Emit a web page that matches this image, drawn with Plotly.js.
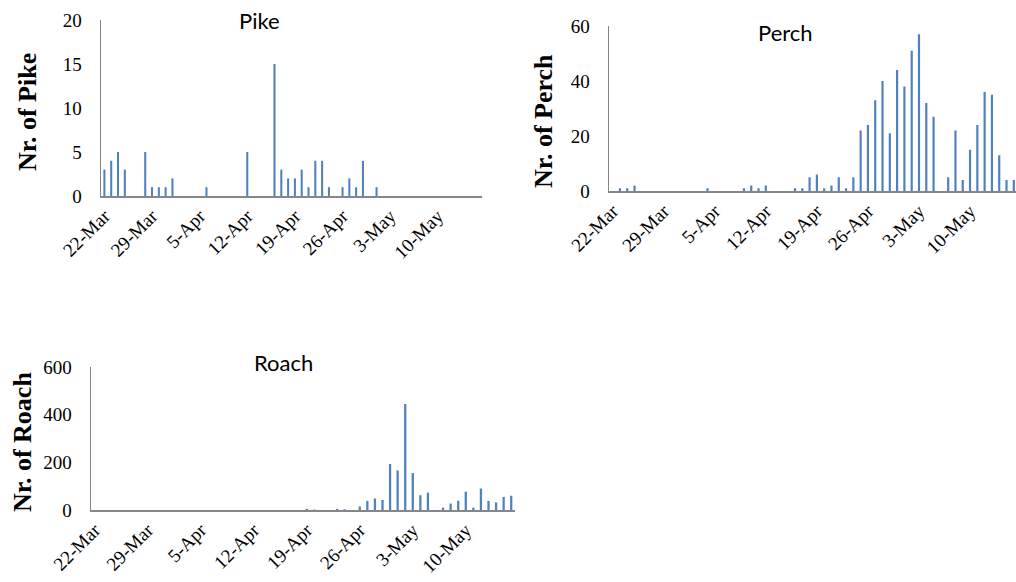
<!DOCTYPE html>
<html>
<head>
<meta charset="utf-8">
<script src="https://cdn.plot.ly/plotly-3.0.1.min.js"></script>
<style>html,body{margin:0;padding:0;background:#fff;}#chart{width:1016px;height:582px;}#pad{position:absolute;left:560px;top:280px;width:450px;height:20px;}</style>
</head>
<body>
<div id="chart"></div>
<div id="pad"></div>
<script>
// Daily dates (22-Mar to 16-May)
const dates = [
  "22-Mar","23-Mar","24-Mar","25-Mar","26-Mar","27-Mar","28-Mar",
  "29-Mar","30-Mar","31-Mar","1-Apr","2-Apr","3-Apr","4-Apr",
  "5-Apr","6-Apr","7-Apr","8-Apr","9-Apr","10-Apr","11-Apr",
  "12-Apr","13-Apr","14-Apr","15-Apr","16-Apr","17-Apr","18-Apr",
  "19-Apr","20-Apr","21-Apr","22-Apr","23-Apr","24-Apr","25-Apr",
  "26-Apr","27-Apr","28-Apr","29-Apr","30-Apr","1-May","2-May",
  "3-May","4-May","5-May","6-May","7-May","8-May","9-May",
  "10-May","11-May","12-May","13-May","14-May","15-May","16-May"
];
const tickLabels = ["22-Mar","29-Mar","5-Apr","12-Apr","19-Apr","26-Apr","3-May","10-May"];

const pike = [
  3,4,5,3,0,0,5,
  1,1,1,2,0,0,0,
  0,1,0,0,0,0,0,
  5,0,0,0,15,3,2,
  2,3,1,4,4,1,0,
  1,2,1,4,0,1,0,
  0,0,0,0,0,0,0,
  0,0,0,0,0,0,0
];
const perch = [
  0,1,1,2,0,0,0,
  0,0,0,0,0,0,1,
  0,0,0,0,1,2,1,
  2,0,0,0,1,1,5,
  6,1,2,5,1,5,22,
  24,33,40,21,44,38,51,
  57,32,27,0,5,22,4,
  15,24,36,35,13,4,4
];
const roach = [
  0,0,0,0,0,0,0,
  0,0,0,0,0,0,0,
  0,0,0,0,0,0,0,
  0,0,0,0,0,0,0,
  5,2,0,0,5,3,0,
  15,38,48,42,193,166,445,
  155,62,73,0,10,27,39,
  77,10,90,38,32,55,60
];

const barColor = "#4F81BD";
const axisColor = "#868686";
const SERIF = "'Liberation Serif', 'Times New Roman', serif";
function tickFont() { return {family: SERIF, size: 19, color: "#000"}; }

function xAxis(domain, anchor, range) {
  return {
    domain: domain, anchor: anchor, type: "category", range: range,
    tickmode: "array", tickvals: tickLabels.slice(), ticktext: tickLabels.slice(),
    tickangle: -45, tickfont: tickFont(), showgrid: false, zeroline: false,
    showline: true, linecolor: axisColor, linewidth: 1.5, ticks: "", fixedrange: true
  };
}
function yAxis(domain, anchor, range, dtick) {
  return {
    domain: domain, anchor: anchor, range: range, dtick: dtick, tick0: 0,
    tickfont: tickFont(), showgrid: false, zeroline: false,
    showline: true, linecolor: axisColor, linewidth: 1.5, ticks: "",
    ticklabelstandoff: 14, fixedrange: true
  };
}

const traces = [
  {type: "bar", x: dates, y: pike, xaxis: "x", yaxis: "y", marker: {color: barColor}},
  {type: "bar", x: dates, y: perch, xaxis: "x2", yaxis: "y2", marker: {color: barColor}},
  {type: "bar", x: dates, y: roach, xaxis: "x3", yaxis: "y3", marker: {color: barColor}}
];

function ann(text, x, y, font, angle) {
  return {text: text, x: x / 1016, y: 1 - y / 582, xref: "paper", yref: "paper",
    xanchor: "center", yanchor: "middle", showarrow: false, font: font, textangle: angle || 0};
}
function titleFont() { return {family: "Lato, 'Open Sans', sans-serif", size: 22, color: "#000"}; }
function axTitleFont() { return {family: SERIF, size: 26, color: "#000"}; }

const layout = {
  width: 1016, height: 582,
  margin: {l: 0, r: 0, t: 0, b: 0},
  font: {family: SERIF, size: 19, color: "#000"},
  showlegend: false, bargap: 0.7,
  xaxis: xAxis([101/1016, 482/1016], "y", [-0.5, 55.5]),
  yaxis: yAxis([1 - 196/582, 1 - 20/582], "x", [0, 20], 5),
  xaxis2: xAxis([609/1016, 1], "y2", [-0.5, 55.3]),
  yaxis2: yAxis([1 - 191/582, 1 - 26/582], "x2", [0, 60], 20),
  xaxis3: xAxis([91/1016, 515/1016], "y3", [-0.5, 55.5]),
  yaxis3: yAxis([1 - 510/582, 1 - 367/582], "x3", [0, 600], 200),
  annotations: [
    ann("Pike", 259, 21, titleFont()),
    ann("Perch", 785, 32, titleFont()),
    ann("Roach", 283, 362, titleFont()),
    ann("<b>Nr. of Pike</b>", 28, 112, axTitleFont(), -90),
    ann("<b>Nr. of Perch</b>", 543, 121, axTitleFont(), -90),
    ann("<b>Nr. of Roach</b>", 22, 442, axTitleFont(), -90)
  ]
};

Plotly.newPlot("chart", traces, layout, {displayModeBar: false, staticPlot: true}).then(function(gd){
  // force a layout pass so the tick fonts are resolved before the page is captured
  let w = 0;
  document.querySelectorAll('.xtick text, .ytick text, .x2tick text, .y3tick text').forEach(function(t){
    const r = t.getBoundingClientRect();
    w += r.width + getComputedStyle(t).fontSize.length;
  });
  document.getElementById('pad').setAttribute('data-w', String(Math.round(w)));
  document.getElementById('pad').style.minHeight = '21px';
});
</script>
</body>
</html>
